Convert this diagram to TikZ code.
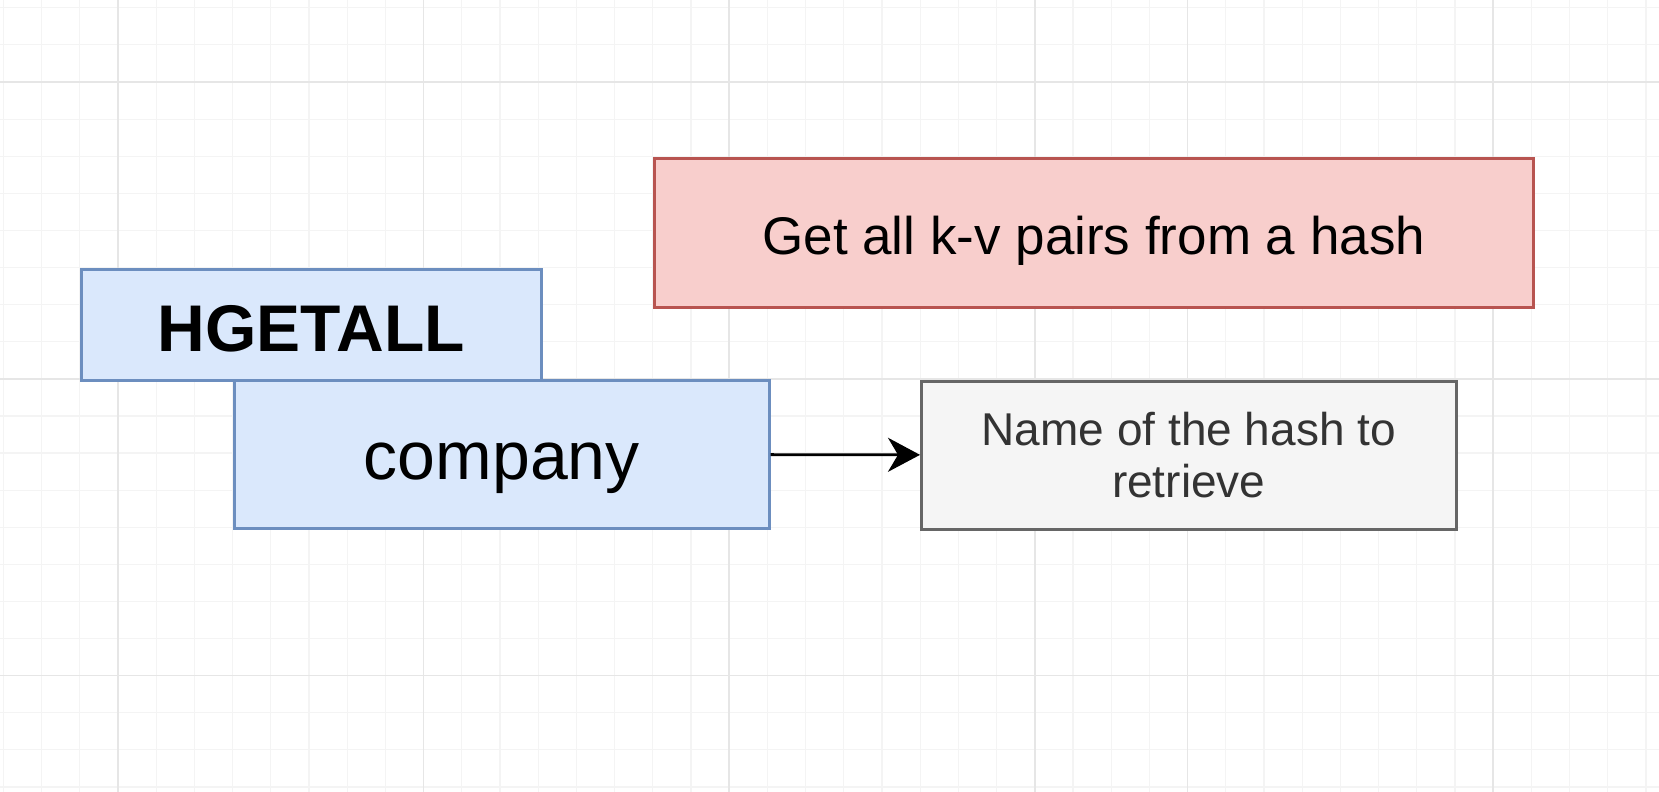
\documentclass[tikz,border=0pt]{standalone}
\usepackage{fontspec}
\setmainfont{Liberation Sans}
\usetikzlibrary{arrows.meta}
\definecolor{bluefill}{HTML}{DAE8FC}
\definecolor{blueline}{HTML}{6C8EBF}
\definecolor{redfill}{HTML}{F8CECC}
\definecolor{redline}{HTML}{B85450}
\definecolor{grayfill}{HTML}{F5F5F5}
\definecolor{grayline}{HTML}{666666}
\definecolor{graytext}{HTML}{333333}
\definecolor{gridminor}{HTML}{F4F4F4}
\definecolor{gridmajor}{HTML}{E6E6E6}
\begin{document}
\begin{tikzpicture}[x=1pt, y=-1pt,
    box/.style={draw, line width=2.5pt, anchor=north west, inner sep=0pt, align=center}]
    \useasboundingbox (0,0) rectangle (1659,792);
    \fill[white] (0,0) rectangle (1659,792);
    \foreach \k in {-3,...,40} \draw[gridminor, line width=1.2pt] ({118+38.2*\k},0) -- ({118+38.2*\k},792);
    \foreach \k in {-2,...,19} \draw[gridminor, line width=1.2pt] (0,{82+37.1*\k}) -- (1659,{82+37.1*\k});
    \foreach \k in {0,8,16,24,28,36} \draw[gridmajor, line width=1.5pt] ({118+38.2*\k},0) -- ({118+38.2*\k},792);
    \foreach \k in {0,8,16} \draw[gridmajor, line width=1.5pt] (0,{82+37.1*\k}) -- (1659,{82+37.1*\k});
    \node[box, fill=redfill, draw=redline, minimum width=879, minimum height=149,
      text height=53pt, text depth=10pt,
      font={\fontsize{53}{60}\selectfont}] (info) at (653,157) {Get all k-v pairs from a hash};
    \node[box, fill=bluefill, draw=blueline, minimum width=460, minimum height=111,
      text height=66pt, text depth=13pt,
      font={\fontsize{66}{72}\selectfont\bfseries}] (cmd) at (80,268) {HGETALL};
    \node[box, fill=bluefill, draw=blueline, minimum width=535, minimum height=148,
      text height=64pt, text depth=14pt,
      font={\fontsize{68}{74}\selectfont}] (arg) at (233,379) {company};
    \node[box, fill=grayfill, draw=grayline, minimum width=535, minimum height=148, text=graytext,
      font={\fontsize{46}{52}\selectfont}] (desc) at (920,380) {Name of the hash to\\retrieve};
    \draw[line width=2.8pt, -{Stealth[length=32pt, width=34pt, inset=10pt]}] (arg) -- (desc);
\end{tikzpicture}
\end{document}
